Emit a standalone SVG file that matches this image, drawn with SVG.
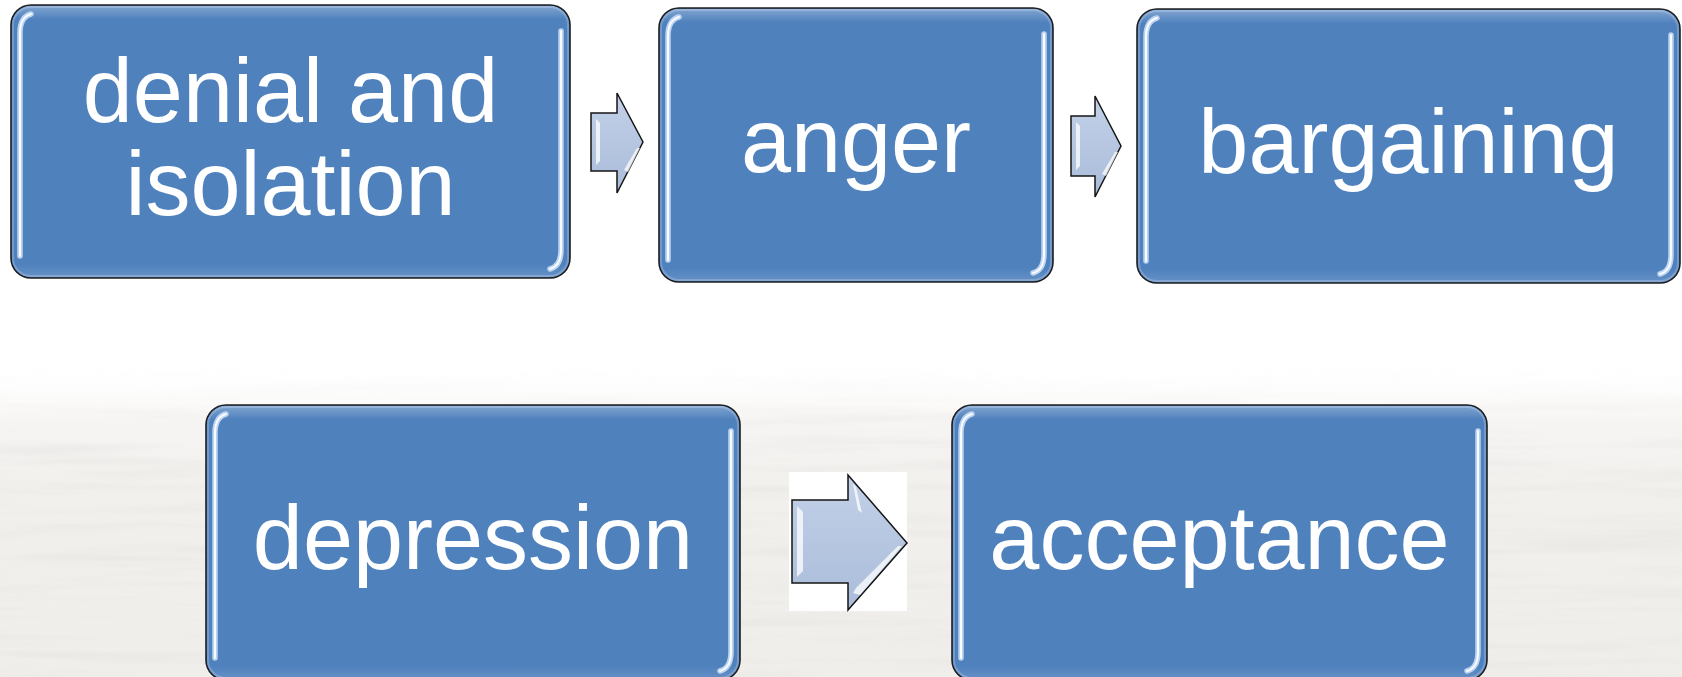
<svg xmlns="http://www.w3.org/2000/svg" width="1682" height="677" viewBox="0 0 1682 677">
  <defs>
    <style>
      .box { fill: #4F81BD; stroke: #1E1E1E; stroke-width: 1.6; }
      .rim { fill: none; stroke: #739ACD; stroke-width: 2; }
      .gloss { fill: url(#topGlow); }
      .hl { fill: none; stroke: #BCD4F2; stroke-width: 5.5; stroke-linecap: round; }
      .hlc { fill: none; stroke: #FFFFFF; stroke-width: 2; stroke-linecap: round; opacity: 0.9; }
      .lbl { font-family: "Liberation Sans", Arial, Helvetica, sans-serif; font-size: 90px; fill: #FFFFFF; text-anchor: middle; }
      .arrow { fill: url(#arrowFill); stroke: #151515; stroke-width: 1.5; stroke-linejoin: miter; }
      .bevel { fill: #FFFFFF; opacity: 0.75; }
    </style>
    <linearGradient id="topGlow" x1="0" y1="0" x2="0" y2="1">
      <stop offset="0" stop-color="#FFFFFF" stop-opacity="0.28"/>
      <stop offset="0.05" stop-color="#FFFFFF" stop-opacity="0"/>
      <stop offset="0.95" stop-color="#FFFFFF" stop-opacity="0"/>
      <stop offset="1" stop-color="#FFFFFF" stop-opacity="0.12"/>
    </linearGradient>
    <linearGradient id="arrowFill" x1="0" y1="0" x2="0" y2="1">
      <stop offset="0" stop-color="#C3D1E8"/>
      <stop offset="1" stop-color="#AABCDA"/>
    </linearGradient>
    <linearGradient id="groundFade" gradientUnits="userSpaceOnUse" x1="0" y1="360" x2="0" y2="677">
      <stop offset="0" stop-color="#FFFFFF" stop-opacity="0"/>
      <stop offset="0.2" stop-color="#F4F2F0" stop-opacity="0.8"/>
      <stop offset="0.4" stop-color="#F2F0ED" stop-opacity="1"/>
      <stop offset="1" stop-color="#F0EEEB" stop-opacity="1"/>
    </linearGradient>
    <linearGradient id="texFade" gradientUnits="userSpaceOnUse" x1="0" y1="370" x2="0" y2="677">
      <stop offset="0" stop-color="#FFFFFF" stop-opacity="0"/>
      <stop offset="0.25" stop-color="#FFFFFF" stop-opacity="1"/>
      <stop offset="1" stop-color="#FFFFFF" stop-opacity="1"/>
    </linearGradient>
    <mask id="texMask" maskUnits="userSpaceOnUse" x="0" y="360" width="1682" height="317">
      <rect x="0" y="360" width="1682" height="317" fill="url(#texFade)"/>
    </mask>
    <filter id="streaks" x="0" y="0" width="100%" height="100%" filterUnits="objectBoundingBox">
      <feTurbulence type="fractalNoise" baseFrequency="0.004 0.07" numOctaves="3" seed="7"/>
      <feColorMatrix type="matrix" values="0 0 0 0 0.70  0 0 0 0 0.68  0 0 0 0 0.66  1.8 0 0 0 -0.8"/>
    </filter>
  </defs>

  <g id="background">
    <rect x="0" y="0" width="1682" height="677" fill="#FFFFFF"/>
    <rect x="0" y="360" width="1682" height="317" fill="url(#groundFade)"/>
    <rect x="0" y="360" width="1682" height="317" filter="url(#streaks)" mask="url(#texMask)" opacity="0.4"/>
  </g>

  <g id="connectors">
    <g id="arrow-1">
      <polygon class="arrow" points="591,113 617,113 617,93 643,142 617,193 617,171 591,171"/>
      <polygon class="bevel" points="596,119 600,123 600,161 596,165"/>
      <polygon class="bevel" points="637,148 640,148 628,172 624,170"/>
    </g>
    <g id="arrow-2">
      <polygon class="arrow" points="1071,116 1095,116 1095,96 1121,146 1095,197 1095,176 1071,176"/>
      <polygon class="bevel" points="1076,122 1080,126 1080,166 1076,170"/>
      <polygon class="bevel" points="1115,152 1118,152 1106,176 1102,174"/>
    </g>
    <g id="arrow-3">
      <rect x="789" y="472" width="118" height="139" fill="#FFFFFF"/>
      <polygon class="arrow" points="792,500 848,500 848,475 907,543 848,610 848,583 792,583"/>
      <polygon class="bevel" points="797,506 803,512 803,571 797,577"/>
      <polygon class="bevel" points="898,546 902,546 860,595 853,593 856,588"/>
      <polygon class="bevel" points="853,484 856,487 862,513 858,510"/>
    </g>
  </g>

  <g id="node-denial">
    <rect class="box" x="11" y="5" width="559" height="273" rx="20"/>
    <rect class="rim" x="13" y="7" width="555" height="269" rx="18"/>
    <rect class="gloss" x="12" y="6" width="557" height="271" rx="19"/>
    <path class="hl" d="M31,14 Q20,17 20,33 L20,256"/>
    <path class="hl" d="M561,31 L561,250 Q561,266 550,269"/>
    <path class="hlc" d="M31,14 Q20,17 20,33 L20,256"/>
    <path class="hlc" d="M561,31 L561,250 Q561,266 550,269"/>
    <text class="lbl" x="290.5" y="122">denial and</text>
    <text class="lbl" x="290.5" y="215">isolation</text>
  </g>

  <g id="node-anger">
    <rect class="box" x="659" y="8" width="394" height="274" rx="20"/>
    <rect class="rim" x="661" y="10" width="390" height="270" rx="18"/>
    <rect class="gloss" x="660" y="9" width="392" height="272" rx="19"/>
    <path class="hl" d="M679,17 Q668,20 668,36 L668,260"/>
    <path class="hl" d="M1044,34 L1044,254 Q1044,270 1033,273"/>
    <path class="hlc" d="M679,17 Q668,20 668,36 L668,260"/>
    <path class="hlc" d="M1044,34 L1044,254 Q1044,270 1033,273"/>
    <text class="lbl" x="856" y="172">anger</text>
  </g>

  <g id="node-bargaining">
    <rect class="box" x="1137" y="9" width="543" height="274" rx="20"/>
    <rect class="rim" x="1139" y="11" width="539" height="270" rx="18"/>
    <rect class="gloss" x="1138" y="10" width="541" height="272" rx="19"/>
    <path class="hl" d="M1157,18 Q1146,21 1146,37 L1146,261"/>
    <path class="hl" d="M1671,35 L1671,255 Q1671,271 1660,274"/>
    <path class="hlc" d="M1157,18 Q1146,21 1146,37 L1146,261"/>
    <path class="hlc" d="M1671,35 L1671,255 Q1671,271 1660,274"/>
    <text class="lbl" x="1408.5" y="173">bargaining</text>
  </g>

  <g id="node-depression">
    <rect class="box" x="206" y="405" width="534" height="275" rx="20"/>
    <rect class="rim" x="208" y="407" width="530" height="271" rx="18"/>
    <rect class="gloss" x="207" y="406" width="532" height="273" rx="19"/>
    <path class="hl" d="M226,414 Q215,417 215,433 L215,658"/>
    <path class="hl" d="M731,431 L731,652 Q731,668 720,671"/>
    <path class="hlc" d="M226,414 Q215,417 215,433 L215,658"/>
    <path class="hlc" d="M731,431 L731,652 Q731,668 720,671"/>
    <text class="lbl" x="473" y="569">depression</text>
  </g>

  <g id="node-acceptance">
    <rect class="box" x="952" y="405" width="535" height="275" rx="20"/>
    <rect class="rim" x="954" y="407" width="531" height="271" rx="18"/>
    <rect class="gloss" x="953" y="406" width="533" height="273" rx="19"/>
    <path class="hl" d="M972,414 Q961,417 961,433 L961,658"/>
    <path class="hl" d="M1478,431 L1478,652 Q1478,668 1467,671"/>
    <path class="hlc" d="M972,414 Q961,417 961,433 L961,658"/>
    <path class="hlc" d="M1478,431 L1478,652 Q1478,668 1467,671"/>
    <text class="lbl" x="1219.5" y="569">acceptance</text>
  </g>
</svg>
